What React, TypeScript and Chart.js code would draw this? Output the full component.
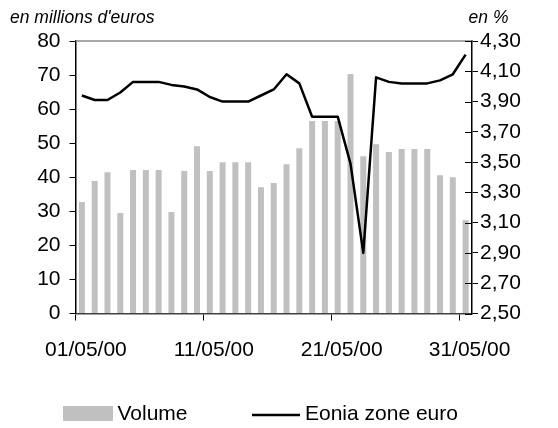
import React, { useEffect, useRef } from 'react';
import { Chart, registerables } from 'chart.js';

Chart.register(...registerables);

const categories = [
  '01/05/00', '02/05/00', '03/05/00', '04/05/00', '05/05/00', '06/05/00', '07/05/00', '08/05/00',
  '09/05/00', '10/05/00', '11/05/00', '12/05/00', '13/05/00', '14/05/00', '15/05/00', '16/05/00',
  '17/05/00', '18/05/00', '19/05/00', '20/05/00', '21/05/00', '22/05/00', '23/05/00', '24/05/00',
  '25/05/00', '26/05/00', '27/05/00', '28/05/00', '29/05/00', '30/05/00', '31/05/00',
];

const volume = [
  32.7, 38.9, 41.5, 29.5, 42.1, 42.1, 42.1, 29.8, 41.8, 49.1, 41.8, 44.4, 44.4, 44.4, 37.1, 38.3,
  43.8, 48.5, 56.5, 56.5, 56.5, 70.3, 46.2, 49.7, 47.4, 48.3, 48.3, 48.3, 40.6, 40.0, 27.4,
];

const eonia = [
  3.94, 3.91, 3.91, 3.96, 4.03, 4.03, 4.03, 4.01, 4.0, 3.98, 3.93, 3.9, 3.9, 3.9, 3.94, 3.98,
  4.08, 4.02, 3.8, 3.8, 3.8, 3.49, 2.9, 4.06, 4.03, 4.02, 4.02, 4.02, 4.04, 4.08, 4.21,
];

const xTickLabels = ['01/05/00', '11/05/00', '21/05/00', '31/05/00'];
const leftTicks = [0, 10, 20, 30, 40, 50, 60, 70, 80];
const rightTicks = [2.5, 2.7, 2.9, 3.1, 3.3, 3.5, 3.7, 3.9, 4.1, 4.3];
const leftTitle = "en millions d'euros";
const rightTitle = 'en %';
const seriesNames = ['Volume', 'Eonia zone euro'];

const FONT = '"Liberation Sans", Arial, Helvetica, sans-serif';
const BAR_COLOR = '#c0c0c0';
const LINE_COLOR = '#000000';

const decorPlugin = {
  id: 'decor',
  afterDraw(chart: any) {
    const { ctx, chartArea } = chart;
    ctx.save();
    // top frame line
    ctx.strokeStyle = '#8a8a8a';
    ctx.lineWidth = 1.5;
    ctx.beginPath();
    ctx.moveTo(chartArea.left, chartArea.top);
    ctx.lineTo(chartArea.right, chartArea.top);
    ctx.stroke();
    // right axis ticks crossing inside
    const y1 = chart.scales.y1;
    ctx.strokeStyle = '#000';
    ctx.lineWidth = 1;
    y1.ticks.forEach((t: any) => {
      const py = Math.round(y1.getPixelForValue(t.value)) + 0.5;
      ctx.beginPath();
      ctx.moveTo(chartArea.right - 7, py);
      ctx.lineTo(chartArea.right, py);
      ctx.stroke();
    });
    // axis titles
    ctx.fillStyle = '#000';
    ctx.font = `italic 17.5px ${FONT}`;
    ctx.textBaseline = 'alphabetic';
    ctx.textAlign = 'left';
    ctx.fillText(leftTitle, 10, 23);
    ctx.textAlign = 'right';
    ctx.fillText(rightTitle, 508.5, 23);
    // legend
    const ly = 414;
    ctx.fillStyle = BAR_COLOR;
    ctx.fillRect(63, ly - 8, 50, 15);
    ctx.strokeStyle = LINE_COLOR;
    ctx.lineWidth = 2.5;
    ctx.beginPath();
    ctx.moveTo(252, ly + 1);
    ctx.lineTo(300, ly + 1);
    ctx.stroke();
    ctx.fillStyle = '#000';
    ctx.font = `21px ${FONT}`;
    ctx.textAlign = 'left';
    ctx.textBaseline = 'middle';
    ctx.fillText(seriesNames[0], 117.5, ly);
    ctx.fillText(seriesNames[1], 305, ly);
    ctx.restore();
  },
};

export default function App() {
  const canvasRef = useRef<HTMLCanvasElement | null>(null);

  useEffect(() => {
    const canvas = canvasRef.current;
    if (!canvas) return;
    const tickIdx = new Set(xTickLabels.map((l) => categories.indexOf(l)));
    const chart = new Chart(canvas, {
      type: 'bar',
      data: {
        labels: categories,
        datasets: [
          {
            type: 'line',
            label: seriesNames[1],
            data: eonia,
            yAxisID: 'y1',
            borderColor: LINE_COLOR,
            backgroundColor: LINE_COLOR,
            borderWidth: 2.5,
            pointRadius: 0,
            tension: 0,
            borderJoinStyle: 'round',
            order: 0,
          } as any,
          {
            type: 'bar',
            label: seriesNames[0],
            data: volume,
            yAxisID: 'y',
            backgroundColor: BAR_COLOR,
            borderWidth: 0,
            categoryPercentage: 1,
            barPercentage: 0.47,
            order: 1,
          } as any,
        ],
      },
      options: {
        responsive: false,
        animation: false,
        devicePixelRatio: 1,
        layout: { padding: { top: 41, left: 0, right: 0, bottom: 0 } },
        plugins: {
          legend: { display: false },
          tooltip: { enabled: false },
          title: { display: false },
        },
        scales: {
          x: {
            type: 'category',
            offset: true,
            grid: {
              offset: true,
              drawOnChartArea: false,
              drawTicks: true,
              tickLength: 7,
              color: (c: any) => (tickIdx.has(c.index) ? '#000' : 'rgba(0,0,0,0)'),
            },
            border: { display: true, color: '#404040', width: 1.5 },
            ticks: {
              autoSkip: false,
              maxRotation: 0,
              minRotation: 0,
              padding: 17,
              labelOffset: 4,
              color: '#000',
              font: { family: FONT, size: 21 },
              callback: (_v: any, i: number) => (tickIdx.has(i) ? categories[i] : ''),
            },
            afterFit: (s: any) => {
              s.height = 114.5;
            },
          },
          y: {
            type: 'linear',
            position: 'left',
            min: 0,
            max: 80,
            afterBuildTicks: (s: any) => {
              s.ticks = leftTicks.map((v) => ({ value: v }));
            },
            grid: { drawOnChartArea: false, drawTicks: true, tickLength: 6, color: '#000' },
            border: { display: true, color: '#000', width: 1.5 },
            ticks: {
              padding: 9,
              color: '#000',
              font: { family: FONT, size: 21 },
              callback: (v: any) => String(v),
            },
            afterFit: (s: any) => {
              s.width = 75.5;
            },
          },
          y1: {
            type: 'linear',
            position: 'right',
            min: 2.5,
            max: 4.3,
            afterBuildTicks: (s: any) => {
              s.ticks = rightTicks.map((v) => ({ value: v }));
            },
            grid: { drawOnChartArea: false, drawTicks: true, tickLength: 6, color: '#000' },
            border: { display: true, color: '#000', width: 1.5 },
            ticks: {
              padding: 2,
              color: '#000',
              font: { family: FONT, size: 21 },
              callback: (v: any) => Number(v).toFixed(2).replace('.', ','),
            },
            afterFit: (s: any) => {
              s.width = 86;
            },
          },
        },
      } as any,
      plugins: [decorPlugin],
    });
    return () => chart.destroy();
  }, []);

  return (
    <div style={{ position: 'absolute', left: 0, top: 0, width: 558, height: 428, background: '#fff' }}>
      <canvas ref={canvasRef} width={558} height={428} style={{ width: 558, height: 428, display: 'block' }} />
    </div>
  );
}
